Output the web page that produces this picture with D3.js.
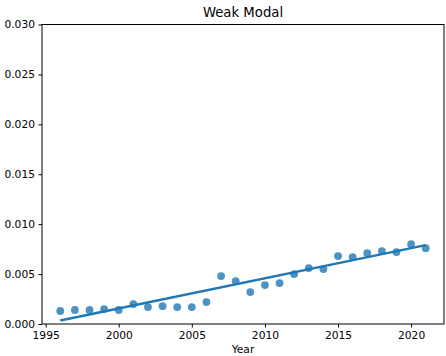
<!DOCTYPE html>
<html>
<head>
<meta charset="utf-8">
<script src="https://cdn.jsdelivr.net/npm/d3@7"></script>
<style>
  html, body { margin: 0; padding: 0; background: #fff; }
  svg { display: block; font-family: "DejaVu Sans", sans-serif; }
</style>
</head>
<body>
<svg id="chart" width="446" height="356"></svg>
<script>
// Yearly share values
const years = [1996, 1997, 1998, 1999, 2000, 2001, 2002, 2003, 2004, 2005, 2006,
               2007, 2008, 2009, 2010, 2011, 2012, 2013, 2014, 2015, 2016, 2017,
               2018, 2019, 2020, 2021];
const values = [0.0013, 0.0014, 0.0014, 0.0015, 0.0014, 0.0020, 0.0017, 0.0018,
                0.0017, 0.0017, 0.0022, 0.0048, 0.0043, 0.0032, 0.0039, 0.0041,
                0.0050, 0.0056, 0.0055, 0.0068, 0.0067, 0.0071, 0.0073, 0.0072,
                0.0080, 0.0076];

// Fitted trend line endpoints
const trendYears = [1996, 2021];
const trendValues = [0.00035, 0.0079];

const xTicks = [1995, 2000, 2005, 2010, 2015, 2020];
const yTicks = [0.000, 0.005, 0.010, 0.015, 0.020, 0.025, 0.030];

const margin = { left: 42, right: 2, top: 24.5, bottom: 32 };
const W = 446, H = 356;
const svg = d3.select("#chart");

const x = d3.scaleLinear().domain([1994.75, 2022.25]).range([margin.left, W - margin.right]);
const y = d3.scaleLinear().domain([0, 0.030]).range([H - margin.bottom, margin.top]);

const blue = "#1f77b4";

// Points
svg.append("g")
  .selectAll("circle")
  .data(years.map((yr, i) => ({ yr, v: values[i] })))
  .join("circle")
  .attr("cx", d => x(d.yr))
  .attr("cy", d => y(d.v))
  .attr("r", 3.9)
  .attr("fill", blue)
  .attr("fill-opacity", 0.8);

// Trend line
svg.append("path")
  .datum(trendYears.map((yr, i) => [yr, trendValues[i]]))
  .attr("fill", "none")
  .attr("stroke", blue)
  .attr("stroke-width", 2.4)
  .attr("d", d3.line().x(d => x(d[0])).y(d => y(d[1])));

// Frame
svg.append("rect")
  .attr("x", margin.left)
  .attr("y", margin.top)
  .attr("width", W - margin.right - margin.left)
  .attr("height", H - margin.bottom - margin.top)
  .attr("fill", "none")
  .attr("stroke", "#000")
  .attr("stroke-width", 1);

// Axes
const xAxis = svg.append("g")
  .attr("transform", `translate(0,${H - margin.bottom})`)
  .call(d3.axisBottom(x).tickValues(xTicks).tickFormat(d3.format("d")).tickSize(3.5).tickPadding(3.5));
const yAxis = svg.append("g")
  .attr("transform", `translate(${margin.left},0)`)
  .call(d3.axisLeft(y).tickValues(yTicks).tickFormat(d3.format(".3f")).tickSize(3.5).tickPadding(3.5));

[xAxis, yAxis].forEach(g => {
  g.select(".domain").remove();
  g.selectAll("text").attr("font-size", 10.7).attr("fill", "#000")
    .attr("font-family", "DejaVu Sans, sans-serif");
  g.selectAll("line").attr("stroke", "#000");
});

// Title and axis label
svg.append("text")
  .attr("x", (margin.left + W - margin.right) / 2)
  .attr("y", 17.3)
  .attr("text-anchor", "middle")
  .attr("font-size", 13.25)
  .attr("fill", "#000")
  .text("Weak Modal");

svg.append("text")
  .attr("x", (margin.left + W - margin.right) / 2)
  .attr("y", 353)
  .attr("text-anchor", "middle")
  .attr("font-size", 10.7)
  .attr("fill", "#000")
  .text("Year");
</script>
</body>
</html>
